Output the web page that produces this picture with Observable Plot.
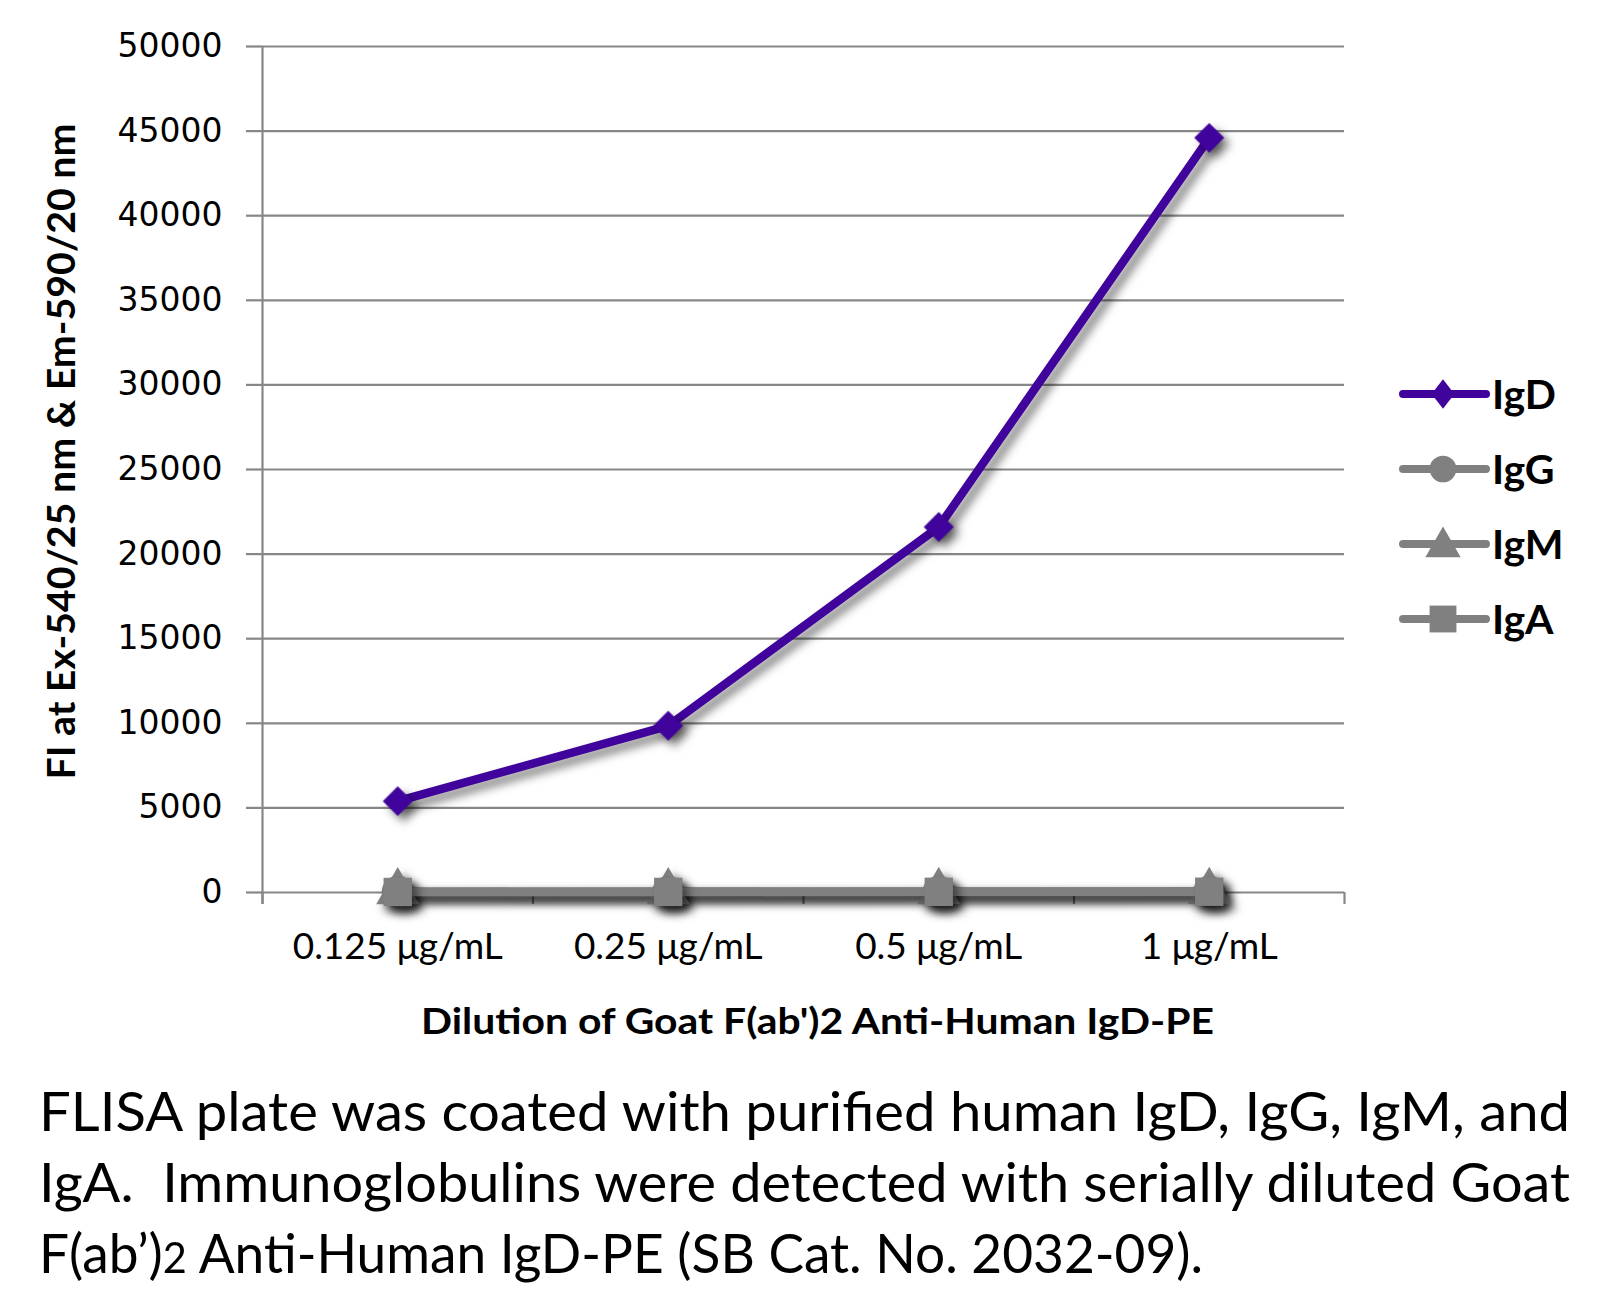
<!DOCTYPE html>
<html><head><meta charset="utf-8">
<script src="https://cdn.jsdelivr.net/npm/d3@7"></script>
<script src="https://cdn.jsdelivr.net/npm/@observablehq/plot@0.6"></script>
<style>
body{margin:0;background:#fff;}
#wrap{position:relative;width:1612px;height:1040px;}
#chart svg{display:block;}
#legend{position:absolute;left:1390px;top:350px;}
#caption{font-family:Lato,"Noto Sans",sans-serif;font-size:54px;line-height:71px;color:#000;padding-left:39px;margin-top:35px;}
#caption .ln{display:block;white-space:pre;}
#caption .ln span.inner{display:inline-block;transform-origin:0 50%;white-space:pre;}
.sub{font-size:0.78em;}
</style></head>
<body>
<div id="wrap"><div id="chart"></div><svg id="legend" width="222" height="300"></svg></div>
<div id="caption"></div>
<script>
const categories = ["0.125 μg/mL", "0.25 μg/mL", "0.5 μg/mL", "1 μg/mL"];
const series = ["IgD", "IgG", "IgM", "IgA"];
const valuesIgD = [5400, 9850, 21600, 44600];
const valuesIgG = [40, 45, 50, 55];
const valuesIgM = [35, 40, 45, 50];
const valuesIgA = [30, 35, 40, 45];
const seriesColors = ["#40039b", "#808080", "#808080", "#808080"];
const seriesSymbols = ["diamond2", "circle", "triangle", "square"];
const yTicks = [0, 5000, 10000, 15000, 20000, 25000, 30000, 35000, 40000, 45000, 50000];
const yTitle = "FI at Ex-540/25 nm & Em-590/20 nm";
const xTitle = "Dilution of Goat F(ab')2 Anti-Human IgD-PE";
const captionLines = [
  "FLISA plate was coated with purified human IgD, IgG, IgM, and",
  "IgA.  Immunoglobulins were detected with serially diluted Goat",
  "F(ab’)<span class=\"sub\">2</span> Anti-Human IgD-PE (SB Cat. No. 2032-09)."
];

const seriesValues = [valuesIgD, valuesIgG, valuesIgM, valuesIgA];
const rows = series.flatMap((s, k) => seriesValues[k].map((v, i) => ({series: s, i, cat: categories[i], value: v})));
const idx = categories.map((d, i) => i);
const bounds = d3.range(categories.length + 1).map(i => i - 0.5);
const shadow = "drop-shadow(6px 6px 5px rgba(0,0,0,0.5))";
const grid = "#878787";

const seriesMarks = series.flatMap((s, k) => {
  const data = rows.filter(d => d.series === s);
  return [
    Plot.line(data, {x: "i", y: "value", stroke: "series", strokeWidth: 8.5, imageFilter: shadow}),
    Plot.dot(data, {x: "i", y: "value", symbol: "series", fill: "series", r: k === 0 ? 13.5 : 16, imageFilter: shadow})
  ];
});

const chart = Plot.plot({
  width: 1612, height: 1040,
  marginLeft: 262, marginRight: 268, marginTop: 46, marginBottom: 148,
  x: {domain: [-0.5, categories.length - 0.5]},
  y: {domain: [0, 50000]},
  color: {domain: series, range: seriesColors},
  symbol: {domain: series, range: seriesSymbols},
  style: {background: "white", color: "black"},
  marks: [
    Plot.gridY(yTicks, {stroke: grid, strokeWidth: 2.2, strokeOpacity: 1}),
    Plot.axisY(yTicks, {tickSize: 16, tickPadding: 24, stroke: grid, strokeWidth: 2.2, fontSize: 33, fontFamily: "DejaVu Sans", fill: "black", tickFormat: d => String(d), label: null}),
    Plot.ruleX([-0.5], {y1: 50000, y2: 0, insetBottom: -12, stroke: grid, strokeWidth: 2.2}),
    Plot.axisX(bounds, {tickSize: 12, tickFormat: () => "", stroke: grid, strokeWidth: 2.2, label: null}),
    Plot.axisX(idx, {tickSize: 0, tickPadding: 40, tickFormat: i => categories[i], fontSize: 37, fontFamily: "Lato", fill: "black", label: null}),
    ...seriesMarks,
    Plot.text([yTitle], {frameAnchor: "left", textAnchor: "middle", dx: -200, dy: -18, rotate: -90, fontSize: 38, fontWeight: "bold", fontFamily: "Lato", fill: "black"}),
    Plot.text([xTitle], {frameAnchor: "bottom", textAnchor: "middle", dx: 14, dy: 141, fontSize: 37, fontWeight: "bold", fontFamily: "Lato", fill: "black"})
  ]
});
document.getElementById("chart").appendChild(chart);

// fit axis titles to reference width
d3.select(chart).selectAll("text").each(function() {
  if (this.textContent === yTitle) { this.setAttribute("textLength", 656); this.setAttribute("lengthAdjust", "spacingAndGlyphs"); }
  if (this.textContent === xTitle) { this.setAttribute("textLength", 793); this.setAttribute("lengthAdjust", "spacingAndGlyphs"); }
});

// legend
const symMap = {circle: d3.symbolCircle, triangle: d3.symbolTriangle, square: d3.symbolSquare, diamond2: d3.symbolSquare};
const symSize = {diamond2: 360, triangle: 540, circle: 560, square: 720};
const lg = d3.select("#legend");
const item = lg.selectAll("g").data(series).join("g")
  .attr("transform", (d, k) => `translate(0,${44 + k * 75})`);
item.append("line").attr("x1", 13).attr("x2", 96).attr("y1", 0).attr("y2", 0)
  .attr("stroke", (d, k) => seriesColors[k]).attr("stroke-width", 8).attr("stroke-linecap", "round");
item.append("path")
  .attr("d", (d, k) => d3.symbol(symMap[seriesSymbols[k]], symSize[seriesSymbols[k]])())
  .attr("transform", (d, k) => `translate(53,${seriesSymbols[k] === "triangle" ? 3 : 0}) ${seriesSymbols[k] === "diamond2" ? "scale(0.85,1.1) rotate(45)" : ""}`)
  .attr("fill", (d, k) => seriesColors[k]);
item.append("text").attr("x", 102).attr("y", 0).attr("dy", "0.36em")
  .attr("font-family", "Lato").attr("font-weight", "bold").attr("font-size", 41).attr("fill", "black")
  .text(d => d);

// caption
const cap = d3.select("#caption");
const targets = [1531, 1531, 1164];
cap.selectAll("div").data(captionLines).join("div").attr("class", "ln")
  .append("span").attr("class", "inner").html(d => d)
  .each(function(d, k) {
    const w = this.getBoundingClientRect().width;
    this.style.transform = `scaleX(${targets[k] / w})`;
  });
</script>
</body></html>
